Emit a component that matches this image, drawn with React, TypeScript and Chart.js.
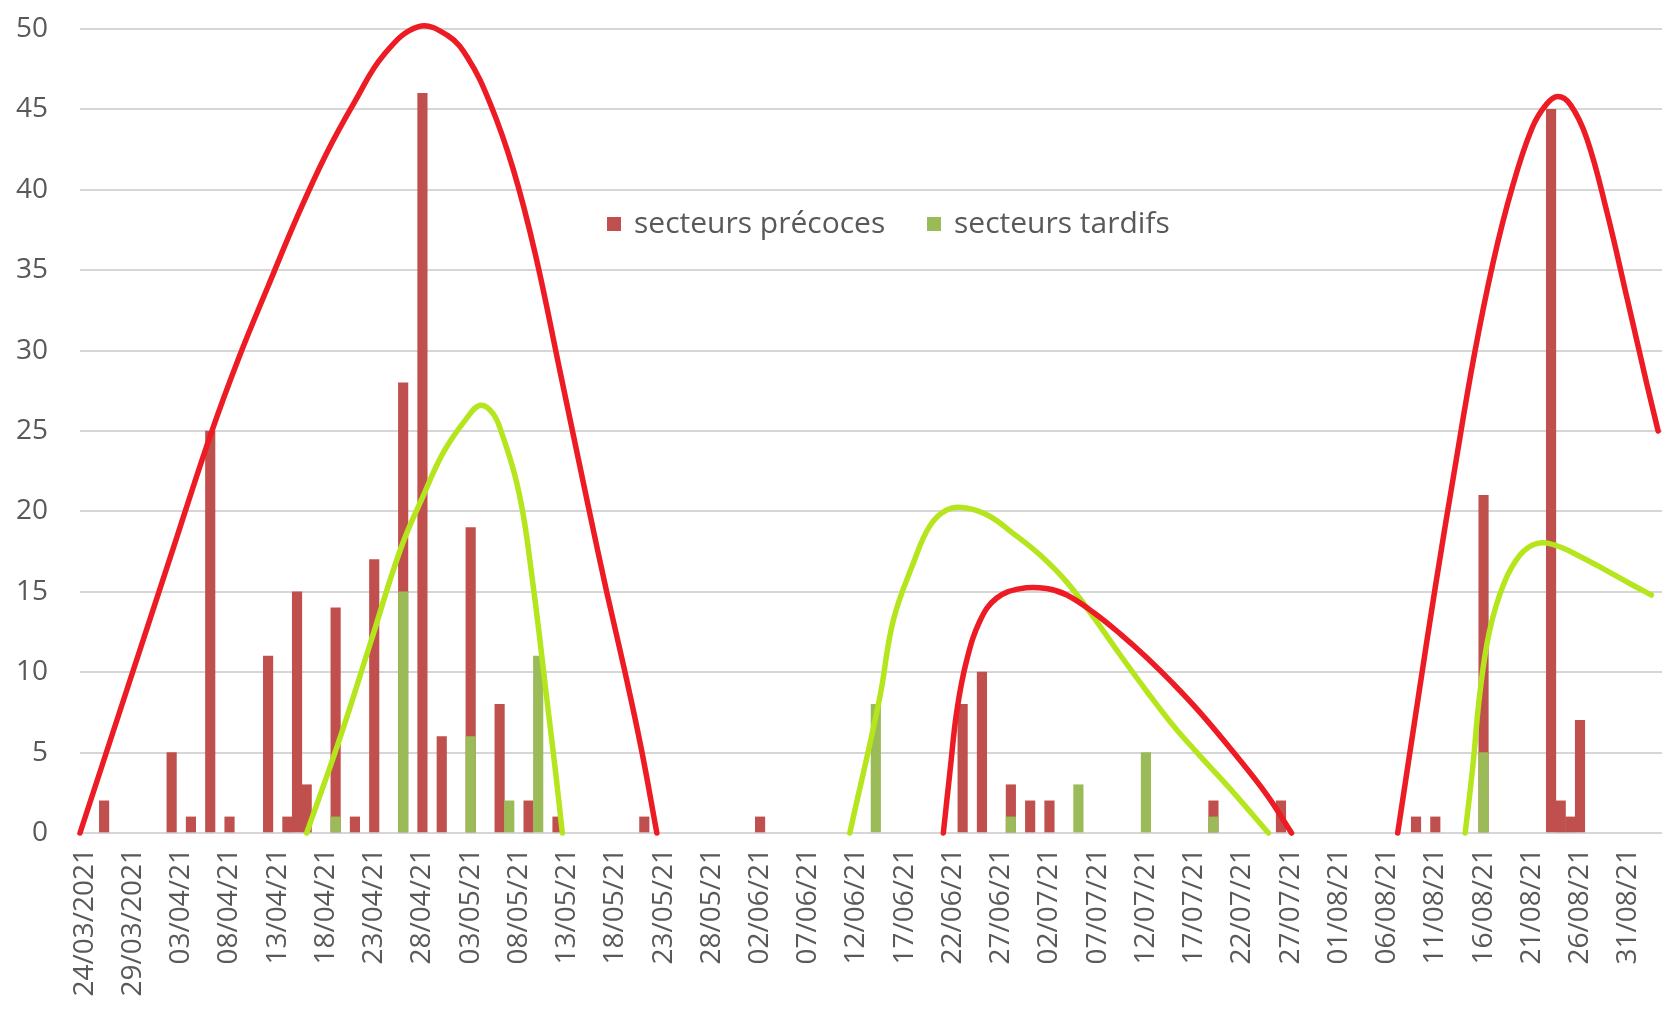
import React, { useEffect, useRef } from 'react';
import { Chart, registerables } from 'chart.js';

Chart.register(...registerables);

// ---- axis / categories ----
const startDate = '2021-03-24';
const dayCount = 164; // 24/03/2021 .. 03/09/2021 (one slot per day)

const tickLabels = [
  '24/03/2021', '29/03/2021', '03/04/21', '08/04/21', '13/04/21', '18/04/21', '23/04/21',
  '28/04/21', '03/05/21', '08/05/21', '13/05/21', '18/05/21', '23/05/21', '28/05/21',
  '02/06/21', '07/06/21', '12/06/21', '17/06/21', '22/06/21', '27/06/21', '02/07/21',
  '07/07/21', '12/07/21', '17/07/21', '22/07/21', '27/07/21', '01/08/21', '06/08/21',
  '11/08/21', '16/08/21', '21/08/21', '26/08/21', '31/08/21',
];

const yTicks = [0, 5, 10, 15, 20, 25, 30, 35, 40, 45, 50];

// ---- bar series ----
const precocesLabel = 'secteurs précoces';
const precocesDates = [
  '26/03', '02/04', '04/04', '06/04', '08/04', '12/04', '14/04', '15/04', '16/04', '19/04',
  '21/04', '23/04', '26/04', '28/04', '30/04', '03/05', '06/05', '09/05', '12/05', '21/05',
  '02/06', '23/06', '25/06', '28/06', '30/06', '02/07', '19/07', '26/07', '09/08', '11/08',
  '16/08', '23/08', '24/08', '25/08', '26/08',
];
const precocesValues = [
  2, 5, 1, 25, 1, 11, 1, 15, 3, 14,
  1, 17, 28, 46, 6, 19, 8, 2, 1, 1,
  1, 8, 10, 3, 2, 2, 2, 2, 1, 1,
  21, 45, 2, 1, 7,
];

const tardifsLabel = 'secteurs tardifs';
const tardifsDates = ['19/04', '26/04', '03/05', '07/05', '10/05', '14/06', '28/06', '05/07', '12/07', '19/07', '16/08'];
const tardifsValues = [1, 15, 6, 2, 11, 8, 1, 3, 5, 1, 5];

// ---- hand-drawn trend curves: [day index from 24/03, value] ----
const curvePrecoces1 = [
  [-0.5, 0], [4.3, 8.8], [9, 17.4], [13, 24.7], [16, 29.6], [19, 34.0], [22, 38.3], [25, 42.2],
  [28, 45.5], [31, 48.4], [34.6, 50.15], [37.6, 49.6], [39.7, 48.2], [42, 45.4], [44.4, 41.3],
  [46.7, 36], [49.3, 28.6], [52.2, 20.3], [54.1, 15], [56, 10], [57.7, 5.2], [59.3, 0],
];
const curveTardifs1 = [
  [23, 0], [26.5, 6], [29.6, 11.8], [32.7, 17.6], [35.1, 21], [37.2, 23.7], [39.6, 25.8],
  [41.0, 26.6], [42.3, 26.1], [43.2, 24.9], [44.6, 22.2], [45.5, 19.6], [46.3, 16.2],
  [47.1, 12.4], [47.9, 8.3], [48.8, 3.8], [49.5, 0],
];
const curvePrecoces2 = [
  [89.0, 0], [89.7, 3.9], [90.4, 7.6], [91.4, 10.7], [92.8, 13.2], [94.5, 14.6], [97.0, 15.2],
  [99.7, 15.2], [101.8, 14.8], [104.6, 13.7], [107.3, 12.4], [110.1, 10.9], [112.8, 9.3],
  [115.6, 7.5], [119.1, 5.0], [122.5, 2.4], [125.1, 0],
];
const curveTardifs2 = [
  [79.3, 0], [82.4, 8.4], [83.8, 13.2], [85.9, 16.8], [87.6, 19.1], [89.4, 20.1], [91.5, 20.2],
  [93.8, 19.7], [96.3, 18.6], [99.0, 17.3], [101.8, 15.6], [104.6, 13.4], [107.3, 11.1],
  [110.1, 8.8], [112.8, 6.7], [115.6, 4.8], [119.1, 2.5], [122.7, 0],
];
const curvePrecoces3 = [
  [136.1, 0], [138.2, 8.3], [140, 15.3], [142, 22.6], [144, 29.6], [146, 35.5], [148, 40.2],
  [150, 43.8], [151.5, 45.3], [152.7, 45.8], [154, 45.3], [155.7, 43.2], [157.8, 38.6],
  [159.9, 33.2], [161.9, 28.0], [163.1, 25],
];
const curveTardifs3 = [
  [143.1, 0], [143.9, 4.2], [144.6, 8.6], [145.6, 12.5], [147.1, 15.5], [148.8, 17.3],
  [150.5, 18], [152.4, 17.9], [155, 17.2], [157.8, 16.3], [160.2, 15.5], [162.4, 14.8],
];

// ---- styles ----
const FONT = "'Open Sans', 'Noto Sans', sans-serif";
const TEXT_COLOR = '#595959';
const RED_BAR = '#C0504D';
const GREEN_BAR = '#9BBB59';
const RED_CURVE = '#ED1C24';
const GREEN_CURVE = '#B5E61D';

function buildCategories(): string[] {
  const out: string[] = [];
  const d0 = new Date(startDate + 'T00:00:00Z').getTime();
  for (let i = 0; i < dayCount; i++) {
    const d = new Date(d0 + i * 86400000);
    const dd = String(d.getUTCDate()).padStart(2, '0');
    const mm = String(d.getUTCMonth() + 1).padStart(2, '0');
    out.push(`${dd}/${mm}`);
  }
  return out;
}

function toPoints(categories: string[], dates: string[], values: number[]) {
  return dates.map((d, k) => ({ x: categories.indexOf(d), y: values[k] }));
}

function curveDataset(points: number[][], color: string) {
  return {
    type: 'line' as const,
    label: '',
    data: points.map(([x, y]) => ({ x, y })),
    borderColor: color,
    backgroundColor: color,
    borderWidth: 5.5,
    borderCapStyle: 'round' as const,
    borderJoinStyle: 'round' as const,
    pointRadius: 0,
    fill: false,
    tension: 0.4,
    clip: false as any,
    order: 0,
    inLegend: false,
  };
}

const inlineLegend = {
  id: 'inlineLegend',
  afterDraw(chart: any) {
    const ctx = chart.ctx;
    const items = chart.data.datasets.filter((d: any) => d.inLegend);
    const xs = [607, 927];
    const yc = 224;
    ctx.save();
    ctx.font = `30px ${FONT}`;
    ctx.textBaseline = 'middle';
    ctx.textAlign = 'left';
    items.forEach((d: any, i: number) => {
      const x = xs[i];
      ctx.fillStyle = d.backgroundColor;
      ctx.fillRect(x, yc - 7, 14, 14);
      ctx.fillStyle = TEXT_COLOR;
      ctx.fillText(d.label, x + 27, yc);
    });
    ctx.restore();
  },
};

export default function App() {
  const ref = useRef<HTMLCanvasElement | null>(null);

  useEffect(() => {
    if (!ref.current) return;
    const categories = buildCategories();
    const barCommon = { type: 'bar', grouped: false, barThickness: 9.5 };
    const chart = new Chart(ref.current, {
      type: 'bar',
      data: {
        datasets: [
          {
            ...barCommon,
            label: precocesLabel,
            data: toPoints(categories, precocesDates, precocesValues),
            backgroundColor: RED_BAR,
            order: 2,
            inLegend: true,
          } as any,
          {
            ...barCommon,
            label: tardifsLabel,
            data: toPoints(categories, tardifsDates, tardifsValues),
            backgroundColor: GREEN_BAR,
            order: 1,
            inLegend: true,
          } as any,
          curveDataset(curvePrecoces1, RED_CURVE) as any,
          curveDataset(curveTardifs1, GREEN_CURVE) as any,
          curveDataset(curvePrecoces2, RED_CURVE) as any,
          curveDataset(curveTardifs2, GREEN_CURVE) as any,
          curveDataset(curvePrecoces3, RED_CURVE) as any,
          curveDataset(curveTardifs3, GREEN_CURVE) as any,
        ],
      },
      options: {
        animation: false,
        responsive: false,
        maintainAspectRatio: false,
        layout: { padding: { left: 16, top: 29, right: 3, bottom: 0 } },
        plugins: {
          legend: { display: false },
          tooltip: { enabled: false },
        },
        scales: {
          x: {
            type: 'linear',
            min: -0.5,
            max: dayCount - 0.5,
            offset: false,
            afterBuildTicks: (axis: any) => {
              axis.ticks = tickLabels.map((_l, k) => ({ value: k * 5 }));
            },
            afterFit: (s: any) => {
              s.paddingLeft = 0;
              s.paddingRight = 0;
              s.height = 176;
            },
            grid: { display: false, drawTicks: false },
            border: { display: false },
            ticks: {
              autoSkip: false,
              minRotation: 90,
              maxRotation: 90,
              padding: 15,
              color: TEXT_COLOR,
              font: { family: FONT, size: 28 },
              callback: (_v: any, i: number) => tickLabels[i] ?? '',
            },
          },
          y: {
            min: yTicks[0],
            max: yTicks[yTicks.length - 1],
            afterBuildTicks: (axis: any) => {
              axis.ticks = yTicks.map((v) => ({ value: v }));
            },
            afterFit: (s: any) => {
              s.width = 64;
              s.paddingTop = 0;
              s.paddingBottom = 0;
            },
            grid: { color: '#d6d6d6', lineWidth: 2, drawTicks: false },
            border: { display: false },
            ticks: {
              padding: 32,
              color: TEXT_COLOR,
              font: { family: FONT, size: 28 },
            },
          },
        },
      } as any,
      plugins: [inlineLegend],
    });
    return () => chart.destroy();
  }, []);

  return (
    <div style={{ position: 'absolute', left: 0, top: 0, width: 1665, height: 1009, background: '#fff' }}>
      <canvas ref={ref} width={1665} height={1009} style={{ display: 'block' }} />
    </div>
  );
}
